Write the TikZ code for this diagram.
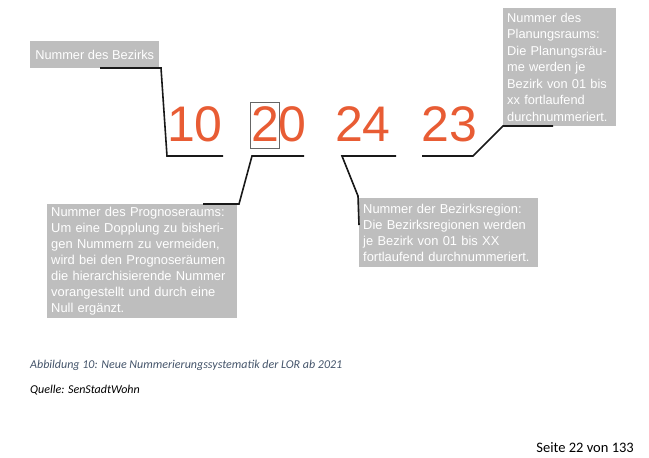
\documentclass[tikz,border=0pt]{standalone}
\usepackage{fontspec}
\setmainfont{Liberation Sans}
\newfontfamily\capfont{Carlito}
\definecolor{numorange}{RGB}{232,92,52}
\definecolor{boxgray}{RGB}{190,190,190}
\definecolor{capblue}{RGB}{68,84,106}
\begin{document}
\begin{tikzpicture}[x=1pt,y=-1pt,
  digit/.style={inner sep=0pt,anchor=base,text=numorange,font=\fontsize{50}{50}\selectfont},
  infobox/.style={fill=boxgray,text=white,anchor=north west,align=left,inner xsep=4pt,inner ysep=0pt,font=\fontsize{12.8}{16.5}\selectfont},
  leader/.style={draw=black!90,line width=1.6pt},
  markbox/.style={draw=black!60,line width=0.9pt}
]
\useasboundingbox (0,0) rectangle (649,458);

% numbers
\node[digit] (n10) at (195,141) {10};
\node[digit] (n20) at (279,141) {20};
\node[digit] (n24) at (363,141) {24};
\node[digit] (n23) at (449.5,141) {23};
\draw[markbox] (250,102) rectangle (279,148);

% boxes
\node[infobox,minimum width=129pt,minimum height=27pt,inner xsep=3pt] (bez) at (30,41) {Nummer des Bezirks};
\node[infobox,minimum width=113pt,minimum height=118pt,text width=105pt] (plr) at (503,8)
  {Nummer des\\Planungsraums:\\Die Planungsräu-\\me werden je\\Bezirk von 01 bis\\xx fortlaufend\\durchnummeriert.};
\node[infobox,minimum width=190pt,minimum height=114pt,text width=182pt,font=\fontsize{12.9}{16}\selectfont] (prg) at (47,204)
  {Nummer des Prognoseraums:\\Um eine Dopplung zu bisheri-\\gen Nummern zu vermeiden,\\wird bei den Prognoseräumen\\die hierarchisierende Nummer\\vorangestellt und durch eine\\Null ergänzt.};
\node[infobox,minimum width=179pt,minimum height=69pt,text width=171pt,font=\fontsize{12.9}{16}\selectfont] (bzr) at (359,198)
  {Nummer der Bezirksregion:\\Die Bezirksregionen werden\\je Bezirk von 01 bis XX\\fortlaufend durchnummeriert.};

% leader coordinates
\coordinate (a1) at (100,68);
\coordinate (a2) at (161,68);
\coordinate (a3) at (167,156);
\coordinate (a4) at (223,156);
\draw[leader] (a1) -- (a2) -- (a3) -- (a4);

\coordinate (b1) at (304,156);
\coordinate (b2) at (252,156);
\coordinate (b3) at (239,204);
\coordinate (b4) at (203,204);
\draw[leader] (b1) -- (b2) -- (b3) -- (b4);

\coordinate (c1) at (396,156);
\coordinate (c2) at (342,156);
\coordinate (c3) at (358,196);
\coordinate (c4) at (359,225);
\draw[leader] (c1) -- (c2) -- (c3) -- (c4);

\coordinate (d1) at (422,156);
\coordinate (d2) at (473,156);
\coordinate (d3) at (503,126);
\coordinate (d4) at (553,126);
\draw[leader] (d1) -- (d2) -- (d3) -- (d4);

% captions
\node[anchor=west,inner sep=0pt,text=capblue,font=\capfont\itshape\fontsize{12}{14}\selectfont] (cap) at (30,365)
  {Abbildung 10: Neue Nummerierungssystematik der LOR ab 2021};
\node[anchor=west,inner sep=0pt,font=\capfont\itshape\fontsize{12}{14}\selectfont] (src) at (30,390)
  {Quelle: SenStadtWohn};
\node[anchor=east,inner sep=0pt,font=\capfont\fontsize{14.5}{16}\selectfont] (page) at (634,448)
  {Seite 22 von 133};
\end{tikzpicture}
\end{document}
